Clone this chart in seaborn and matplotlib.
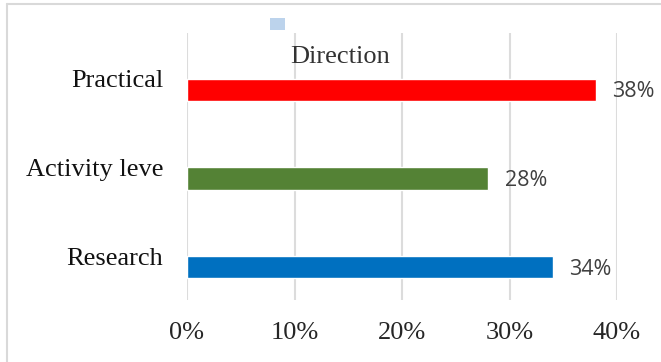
import matplotlib
matplotlib.use("Agg")
import matplotlib.pyplot as plt
import matplotlib.transforms as mtransforms
from matplotlib.lines import Line2D
from matplotlib.patches import Rectangle
import seaborn as sns
import pandas as pd

categories = ["Practical", "Activity leve", "Research"]
values = [0.38, 0.28, 0.34]
colors = ["#ff0000", "#548235", "#0070c0"]
xticks = [0.0, 0.1, 0.2, 0.3, 0.4]
xtick_labels = ["0%", "10%", "20%", "30%", "40%"]
title = "Direction"

sns.set_theme(style="white")
plt.rcParams["font.family"] = ["Liberation Serif", "DejaVu Serif"]

df = pd.DataFrame({"category": categories, "value": values})

fig = plt.figure(figsize=(6.61, 3.62), dpi=100)
ax = fig.add_axes([187/661, 1-300/362, (617-187)/661, (300-33)/362])

sns.barplot(data=df, x="value", y="category", hue="category", order=categories,
            hue_order=categories, palette=colors, width=0.25, dodge=False,
            legend=False, ax=ax, saturation=1)

ax.set_xlim(0, 0.40)
ax.set_ylim(2.37, -0.64)
ax.set_xticks(xticks)
ax.set_xticklabels(xtick_labels, fontsize=19, color="#262626")
ax.set_yticks(range(len(categories)))
ax.set_yticklabels(categories, fontsize=19, color="#111111")
ax.tick_params(axis="x", length=0, pad=16)
ax.tick_params(axis="y", length=0, pad=17)
ax.set_xlabel("")
ax.set_ylabel("")
for s in ax.spines.values():
    s.set_visible(False)
ax.grid(axis="x", color="#dcdcdc", linewidth=1.5)
ax.grid(axis="y", visible=False)
ax.set_axisbelow(True)

offset = mtransforms.ScaledTranslation(0, 0.11, fig.dpi_scale_trans)
for lbl in ax.get_yticklabels():
    lbl.set_transform(lbl.get_transform() + offset)

for i, v in enumerate(values):
    ax.annotate(f"{round(v*100)}%", xy=(v, i), xytext=(17, -2), textcoords="offset pixels",
                ha="left", va="center", fontsize=15.5, color="#404040",
                family=["Open Sans", "DejaVu Sans"])

fig.text(340/661, 1-63/362, title, ha="center", va="baseline", fontsize=19, color="#333333")
fig.patches.append(Rectangle((270/661, 1-30/362), 15/661, 12/362, transform=fig.transFigure,
                             facecolor="#bcd3ec", edgecolor="none"))

fig.lines.append(Line2D([7/661, 7/661], [0, 1-4/362], transform=fig.transFigure,
                        color="#d9d9d9", linewidth=1.5))
fig.lines.append(Line2D([7/661, 1], [1-4/362, 1-4/362], transform=fig.transFigure,
                        color="#d9d9d9", linewidth=1.5))

fig.savefig("out.png", dpi=100)
